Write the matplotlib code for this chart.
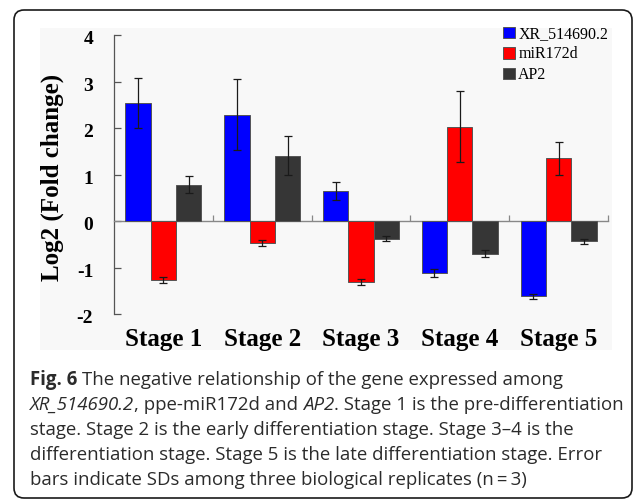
import numpy as np
import matplotlib
matplotlib.use("Agg")
import matplotlib.pyplot as plt
from matplotlib.patches import Patch, FancyBboxPatch, Rectangle
from matplotlib.transforms import ScaledTranslation

# ---------------- data ----------------
stages = ["Stage 1", "Stage 2", "Stage 3", "Stage 4", "Stage 5"]
series_names = ["XR_514690.2", "miR172d", "AP2"]
xr_vals = [2.54, 2.29, 0.64, -1.12, -1.62]
xr_err = [0.53, 0.76, 0.19, 0.09, 0.05]
mir_vals = [-1.27, -0.47, -1.31, 2.03, 1.35]
mir_err = [0.07, 0.06, 0.06, 0.77, 0.35]
ap2_vals = [0.78, 1.40, -0.38, -0.70, -0.44]
ap2_err = [0.18, 0.42, 0.06, 0.08, 0.05]
yticks = [-2, -1, 0, 1, 2, 3, 4]
colors = ["#0000ff", "#ff0000", "#363636"]

caption_lines = [
    [("Fig. 6", "bold"), ("The negative relationship of the gene expressed among", "normal")],
    [("XR_514690.2", "italic"), (", ppe-miR172d and", "normal"), ("AP2", "italic"),
     (". Stage 1 is the pre-differentiation", "normal")],
    [("stage. Stage 2 is the early differentiation stage. Stage 3\u20134 is the", "normal")],
    [("differentiation stage. Stage 5 is the late differentiation stage. Error", "normal")],
    [("bars indicate SDs among three biological replicates (n\u2009=\u20093)", "normal")],
]

W, H = 633, 500
fig = plt.figure(figsize=(W / 100, H / 100), dpi=100)
fig.patch.set_facecolor("white")

serif = "Liberation Serif"

# faint background of the embedded chart image
fig.add_artist(Rectangle((40 / W, 1 - 350 / H), (612 - 40) / W, (350 - 28) / H,
                         transform=fig.transFigure, facecolor="#f8f8f8",
                         edgecolor="none", zorder=0))

ax = fig.add_axes([114 / W, 1 - 314 / H, (608 - 114) / W, (314 - 35) / H])
ax.set_facecolor("white")
ax.patch.set_alpha(0)

x = np.arange(len(stages))
bw = 0.257
all_vals = [xr_vals, mir_vals, ap2_vals]
all_err = [xr_err, mir_err, ap2_err]
for i, (v, e, c) in enumerate(zip(all_vals, all_err, colors)):
    ax.bar(x + (i - 1) * bw, v, bw, color=c, edgecolor="#555555", linewidth=0.7,
           yerr=e, error_kw=dict(ecolor="#1a1a1a", elinewidth=0.9, capsize=3,
                                 capthick=0.9), zorder=3)

ax.set_xlim(-0.5, len(stages) - 0.5)
ax.set_ylim(-2, 4)
ax.set_yticks(yticks)
ax.set_yticklabels([str(t) for t in yticks], fontfamily=serif, fontweight="bold",
                   fontsize=14)
ax.tick_params(axis="y", direction="in", length=5, width=0.9, color="#555555", pad=15)
for lab in ax.get_yticklabels():
    lab.set_va("center_baseline")
    lab.set_transform(lab.get_transform() + ScaledTranslation(0, -2 / 72, fig.dpi_scale_trans))
for s in ["top", "right"]:
    ax.spines[s].set_visible(False)
ax.spines["left"].set_color("#555555")
ax.spines["left"].set_linewidth(0.9)
ax.spines["bottom"].set_position(("data", 0))
ax.spines["bottom"].set_color("#888888")
ax.spines["bottom"].set_linewidth(1.0)
ax.set_xticks(x + 0.5)
ax.set_xticklabels([])
ax.tick_params(axis="x", direction="in", length=4, width=0.9, color="#888888")

sec = ax.secondary_xaxis(0)
sec.set_xticks(x)
sec.set_xticklabels(stages, fontfamily=serif, fontweight="bold", fontsize=18)
sec.tick_params(length=0, pad=10)
sec.spines["bottom"].set_visible(False)

fig.text(52 / W, 1 - 177 / H, "Log2 (Fold change)", rotation=90, ha="center",
         va="center", fontfamily=serif, fontweight="bold", fontsize=18)

handles = [Patch(facecolor=c, edgecolor="#555555", linewidth=0.7) for c in colors]
fig.legend(handles, series_names, loc="upper left", bbox_to_anchor=(503 / W, 1 - 26 / H),
           frameon=False, borderpad=0, borderaxespad=0, handlelength=0.75,
           handleheight=0.75, handletextpad=0.2, labelspacing=0.28,
           prop=dict(family=serif, size=11.5))

# rounded frame
fig.add_artist(FancyBboxPatch((0.14, 0.02), 6.18, 4.88,
                              boxstyle="round,pad=0,rounding_size=0.1",
                              transform=fig.dpi_scale_trans, facecolor="none",
                              edgecolor="#1a1a1a", linewidth=1.2, zorder=5))

# caption
renderer = fig.canvas.get_renderer()
cap_font = "Open Sans"
cap_size = 13.4
cap_color = "#2b2b2b"


def make_text(xp, yp, s, style):
    kw = dict(fontfamily=cap_font, fontsize=cap_size, color=cap_color, va="baseline",
              ha="left", transform=None)
    if style == "bold":
        kw["fontweight"] = "bold"
    elif style == "italic":
        kw["fontstyle"] = "italic"
    return fig.text(xp, yp, s, **kw)


t1 = make_text(0, 0, "x x", "normal")
t2 = make_text(0, 0, "xx", "normal")
space_w = t1.get_window_extent(renderer).width - t2.get_window_extent(renderer).width
t1.remove()
t2.remove()

y0 = 385
dy = 25
for li, segs in enumerate(caption_lines):
    xp = 30
    yp = H - (y0 + li * dy)
    for si, (s, style) in enumerate(segs):
        if si > 0 and not s.startswith((",", ".")):
            xp += space_w
        t = make_text(xp, yp, s, style)
        xp = t.get_window_extent(renderer).x1

fig.savefig("out.png", dpi=100)
